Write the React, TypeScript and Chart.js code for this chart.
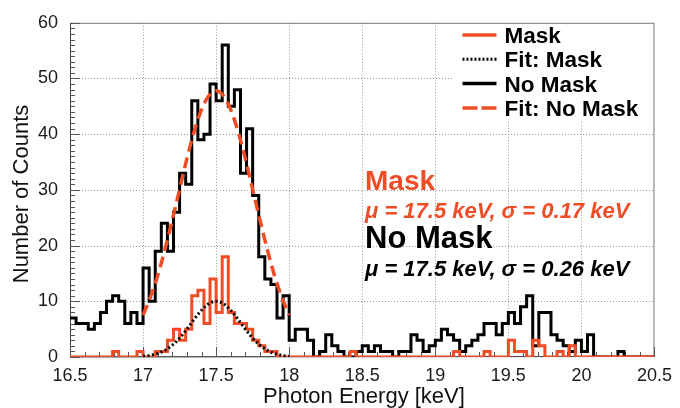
import React, { useEffect, useRef } from "react";
import { Chart, registerables } from "chart.js";

Chart.register(...registerables);

// Histogram range and binning (keV)
const ENERGY_MIN = 16.5;
const ENERGY_MAX = 20.5;
const BIN_COUNT = 96;

// Counts per bin without the mask, from 16.5 keV upward
const noMaskCounts = [
  7, 6, 6, 5, 6, 8, 10, 11, 10, 6, 8, 6,
  16, 10, 19, 24, 19, 26, 33, 31, 46, 39, 40, 49,
  46, 56, 45, 48, 33, 41, 29, 18, 14, 13, 7, 11,
  3, 5, 5, 3, 0, 1, 4, 2, 1, 0, 0, 1,
  2, 1, 2, 1, 1, 0, 1, 1, 4, 3, 1, 2,
  3, 5, 4, 3, 1, 2, 3, 4, 6, 6, 4, 6,
  8, 6, 9, 11, 2, 8, 8, 4, 3, 2, 1, 3,
  1, 4, 0, 0, 0, 0, 1, 0, 0, 0, 0, 0,
];

// Counts per bin with the mask
const maskCounts = [
  0, 0, 0, 0, 0, 0, 0, 1, 0, 0, 0, 1,
  0, 0, 1, 1, 3, 5, 3, 5, 11, 12, 6, 14,
  8, 18, 8, 6, 6, 5, 3, 2, 1, 1, 0, 0,
  0, 0, 0, 0, 0, 0, 0, 0, 0, 0, 1, 0,
  0, 0, 0, 0, 0, 0, 0, 0, 0, 0, 0, 0,
  0, 0, 0, 1, 0, 0, 0, 0, 1, 0, 0, 0,
  3, 1, 1, 0, 3, 2, 0, 0, 1, 0, 2, 0,
  0, 0, 0, 0, 0, 0, 0, 0, 0, 0, 0, 0,
];

// Gaussian fit parameters (keV)
const maskMu = 17.5;
const maskSigma = 0.17;
const noMaskMu = 17.5;
const noMaskSigma = 0.26;

// Fitted curves, sampled every 0.05 keV over the fit window
const fitEnergies = [
  17.0, 17.05, 17.1, 17.15, 17.2, 17.25, 17.3, 17.35, 17.4, 17.45, 17.5,
  17.55, 17.6, 17.65, 17.7, 17.75, 17.8, 17.85, 17.9, 17.95, 18.0,
];
const fitMaskCounts = [
  0.13, 0.3, 0.63, 1.2, 2.11, 3.39, 5.0, 6.78, 8.41, 9.58, 10.0,
  9.58, 8.41, 6.78, 5.0, 3.39, 2.11, 1.2, 0.63, 0.3, 0.13,
];
const fitNoMaskCounts = [
  7.5, 10.7, 14.6, 19.3, 24.6, 30.1, 35.6, 40.5, 44.4, 46.9, 47.8,
  46.9, 44.4, 40.5, 35.6, 30.1, 24.6, 19.3, 14.6, 10.7, 7.5,
];

const energyTicks = [16.5, 17, 17.5, 18, 18.5, 19, 19.5, 20, 20.5];
const countTicks = [0, 10, 20, 30, 40, 50, 60];

const ORANGE = "#ee4d25";
const FONT = "'Liberation Sans', Arial, Helvetica, sans-serif";

const binWidth = (ENERGY_MAX - ENERGY_MIN) / BIN_COUNT;

// Left-edge points for a step-drawn histogram, closed at the upper edge
function toSteps(counts: number[]) {
  const pts = counts.map((c, i) => ({ x: ENERGY_MIN + i * binWidth, y: c }));
  pts.push({ x: ENERGY_MAX, y: counts[counts.length - 1] });
  return pts;
}

function toCurve(xs: number[], ys: number[]) {
  return xs.map((x, i) => ({ x, y: ys[i] }));
}

const legendEntries = [
  { label: "Mask", color: ORANGE, dash: [] as number[], width: 3.5 },
  { label: "Fit: Mask", color: "#000", dash: [2, 2], width: 3 },
  { label: "No Mask", color: "#000", dash: [] as number[], width: 3.5 },
  { label: "Fit: No Mask", color: ORANGE, dash: [15, 4], width: 3.5 },
];

const decor = {
  id: "decor",
  beforeDatasetsDraw(chart: any) {
    const { ctx, chartArea: a } = chart;
    const xs = chart.scales.x;
    const ys = chart.scales.y;
    ctx.save();

    // dotted grid at labelled ticks
    ctx.strokeStyle = "#999";
    ctx.lineWidth = 1;
    ctx.setLineDash([1, 2]);
    ctx.beginPath();
    for (const v of energyTicks) {
      if (v <= ENERGY_MIN || v >= ENERGY_MAX) continue;
      const px = Math.round(xs.getPixelForValue(v)) + 0.5;
      ctx.moveTo(px, a.top);
      ctx.lineTo(px, a.bottom);
    }
    for (const v of countTicks) {
      if (v <= 0 || v >= 60) continue;
      const py = Math.round(ys.getPixelForValue(v)) + 0.5;
      ctx.moveTo(a.left, py);
      ctx.lineTo(a.right, py);
    }
    ctx.stroke();
    ctx.setLineDash([]);

    // legend panel
    ctx.fillStyle = "#fff";
    ctx.fillRect(a.right - 201, a.top, 201, 97);

    // frame
    ctx.strokeStyle = "#777";
    ctx.lineWidth = 1;
    ctx.strokeRect(a.left + 0.5, a.top + 0.5, a.right - a.left - 1, a.bottom - a.top - 1);
    ctx.strokeStyle = "#444";
    ctx.beginPath();
    ctx.moveTo(a.left + 0.5, a.top);
    ctx.lineTo(a.left + 0.5, a.bottom);
    ctx.lineTo(a.right, a.bottom - 0.5);
    ctx.stroke();

    // tick marks pointing into the plot
    ctx.strokeStyle = "#555";
    ctx.beginPath();
    for (let i = 0; i <= 40; i++) {
      const v = ENERGY_MIN + i * 0.1;
      const px = Math.round(xs.getPixelForValue(v)) + 0.5;
      const len = i % 5 === 0 ? 10 : 5;
      ctx.moveTo(px, a.bottom);
      ctx.lineTo(px, a.bottom - len);
    }
    for (let v = 0; v <= 60; v++) {
      const py = Math.round(ys.getPixelForValue(v)) + 0.5;
      const len = v % 10 === 0 ? 10 : 5;
      ctx.moveTo(a.left, py);
      ctx.lineTo(a.left + len, py);
    }
    ctx.stroke();
    ctx.restore();
  },
  afterDatasetsDraw(chart: any) {
    const { ctx, chartArea: a } = chart;
    ctx.save();

    // legend
    const lx0 = a.right - 192;
    const lx1 = a.right - 158;
    const tx = a.right - 150;
    ctx.font = `bold 22.5px ${FONT}`;
    ctx.textBaseline = "alphabetic";
    ctx.textAlign = "left";
    legendEntries.forEach((e, i) => {
      const cy = a.top + 12.2 + i * 24.3;
      ctx.strokeStyle = e.color;
      ctx.lineWidth = e.width;
      ctx.lineCap = "butt";
      ctx.setLineDash(e.dash);
      ctx.beginPath();
      ctx.moveTo(lx0, cy);
      ctx.lineTo(lx1, cy);
      ctx.stroke();
      ctx.setLineDash([]);
      ctx.fillStyle = "#000";
      ctx.fillText(e.label, tx, cy + 8);
    });

    // fit results
    const ax = 365;
    ctx.fillStyle = ORANGE;
    ctx.font = `bold 28px ${FONT}`;
    ctx.fillText("Mask", ax, 190);
    ctx.font = `italic bold 22px ${FONT}`;
    ctx.fillText(`μ = ${maskMu} keV, σ = ${maskSigma} keV`, ax, 218);
    ctx.fillStyle = "#000";
    ctx.font = `bold 31px ${FONT}`;
    ctx.fillText("No Mask", ax, 248);
    ctx.font = `italic bold 22px ${FONT}`;
    ctx.fillText(`μ = ${noMaskMu} keV, σ = ${noMaskSigma} keV`, ax, 276);

    // axis titles
    ctx.fillStyle = "#111";
    ctx.font = `22px ${FONT}`;
    ctx.textAlign = "center";
    ctx.fillText("Photon Energy [keV]", 364, 403);
    ctx.translate(28, 193);
    ctx.rotate(-Math.PI / 2);
    ctx.fillText("Number of Counts", -1, 0);
    ctx.restore();
  },
};

export default function App() {
  const canvasRef = useRef<HTMLCanvasElement | null>(null);

  useEffect(() => {
    const canvas = canvasRef.current;
    if (!canvas) return;
    const chart = new Chart(canvas, {
      type: "line",
      data: {
        datasets: [
          {
            label: "Fit: Mask",
            data: toCurve(fitEnergies, fitMaskCounts),
            borderColor: "#000",
            borderWidth: 3,
            borderDash: [2, 2.5],
            pointRadius: 0,
            cubicInterpolationMode: "monotone",
            fill: false,
          },
          {
            label: "Mask",
            data: toSteps(maskCounts),
            borderColor: ORANGE,
            borderWidth: 3,
            stepped: true,
            pointRadius: 0,
            borderJoinStyle: "miter",
            fill: false,
          },
          {
            label: "Fit: No Mask",
            data: toCurve(fitEnergies, fitNoMaskCounts),
            borderColor: ORANGE,
            borderWidth: 3.5,
            borderDash: [11, 6],
            pointRadius: 0,
            cubicInterpolationMode: "monotone",
            fill: false,
          },
          {
            label: "No Mask",
            data: toSteps(noMaskCounts),
            borderColor: "#000",
            borderWidth: 3,
            stepped: true,
            pointRadius: 0,
            borderJoinStyle: "miter",
            fill: false,
          },
        ] as any,
      },
      options: {
        responsive: false,
        animation: false,
        events: [],
        layout: { padding: { top: 19.5, right: 21.5, left: 0, bottom: 0 } },
        plugins: {
          legend: { display: false },
          tooltip: { enabled: false },
        },
        scales: {
          x: {
            type: "linear",
            min: ENERGY_MIN,
            max: ENERGY_MAX,
            afterBuildTicks: (s: any) => {
              s.ticks = energyTicks.map((v) => ({ value: v }));
            },
            afterFit: (s: any) => {
              s.height = 51;
            },
            grid: { display: false, drawTicks: false },
            border: { display: false },
            ticks: {
              autoSkip: false,
              maxRotation: 0,
              padding: 8,
              color: "#1a1a1a",
              font: { family: FONT, size: 18 },
              callback: (v: any) => String(v),
            },
          },
          y: {
            type: "linear",
            min: 0,
            max: 60,
            afterBuildTicks: (s: any) => {
              s.ticks = countTicks.map((v) => ({ value: v }));
            },
            afterFit: (s: any) => {
              s.width = 70;
            },
            grid: { display: false, drawTicks: false },
            border: { display: false },
            ticks: {
              padding: 12,
              color: "#1a1a1a",
              font: { family: FONT, size: 18 },
            },
          },
        },
      },
      plugins: [decor],
    });
    return () => chart.destroy();
  }, []);

  return (
    <div
      style={{
        position: "absolute",
        left: 0,
        top: 0,
        width: 680,
        height: 408,
        background: "#fff",
      }}
    >
      <canvas ref={canvasRef} width={680} height={408} style={{ display: "block" }} />
    </div>
  );
}
